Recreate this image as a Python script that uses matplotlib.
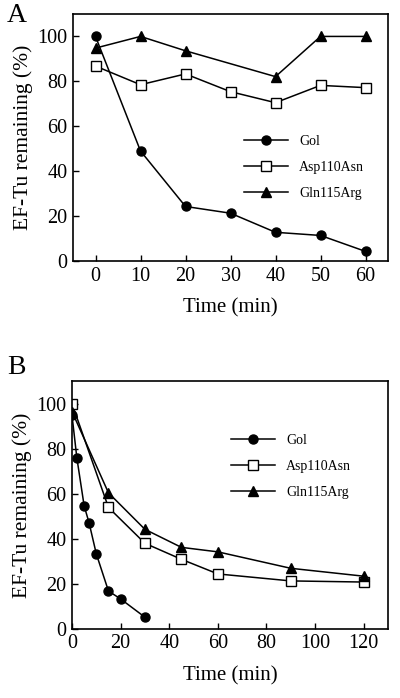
import matplotlib
matplotlib.use("Agg")
import matplotlib.pyplot as plt

plt.rcParams['font.family'] = ['Liberation Serif', 'DejaVu Serif']

# panel A data
t_a = [0, 10, 20, 30, 40, 50, 60]
gol_a = [100, 49, 24.3, 21.3, 12.8, 11.4, 4.3]
asp_a = [86.8, 78.5, 83.3, 75.4, 70.5, 78.2, 77.2]
t_gln_a = [0, 10, 20, 40, 50, 60]
gln_a = [94.8, 100, 93.6, 82.1, 100, 100]

# panel B data
t_gol_b = [0, 2, 5, 7, 10, 15, 20, 30]
gol_b = [94.8, 75.9, 54.6, 47.2, 33.3, 16.8, 13.3, 5.2]
t_b = [0, 15, 30, 45, 60, 90, 120]
asp_b = [100, 53.9, 38.0, 30.9, 24.4, 21.3, 20.8]
gln_b = [96.5, 60.4, 44.2, 36.2, 34.2, 26.9, 23.4]

fig = plt.figure(figsize=(4, 6.98), dpi=100)
axA = fig.add_axes([0.1825, 0.626, 0.7875, 0.354])
axB = fig.add_axes([0.18, 0.099, 0.79, 0.355])

mk = dict(color='black', lw=1.1, markersize=6.5)

axA.plot(t_a, gol_a, marker='o', label='Gol', **mk)
axA.plot(t_a, asp_a, marker='s', markerfacecolor='white', label='Asp110Asn', **mk)
axA.plot(t_gln_a, gln_a, marker='^', label='Gln115Arg', **mk)
axA.set_xlim(-5, 65)
axA.set_ylim(0, 110)
axA.set_xticks(t_a)

axB.plot(t_gol_b, gol_b, marker='o', label='Gol', **mk)
axB.plot(t_b, asp_b, marker='s', markerfacecolor='white', label='Asp110Asn', **mk)
axB.plot(t_b, gln_b, marker='^', label='Gln115Arg', **mk)
axB.set_xlim(0, 130)
axB.set_ylim(0, 110)
axB.set_xticks([0, 20, 40, 60, 80, 100, 120])

for ax, anchor in [(axA, (0.52, 0.54)), (axB, (0.48, 0.815))]:
    ax.set_yticks([0, 20, 40, 60, 80, 100])
    ax.tick_params(direction='in', length=4, width=1, labelsize=14.5, pad=4)
    for s in ax.spines.values():
        s.set_linewidth(1.2)
    ax.set_xlabel('Time (min)', fontsize=15, labelpad=9)
    ax.set_ylabel('EF-Tu remaining (%)', fontsize=15.5, labelpad=3)
    ax.legend(loc='upper left', bbox_to_anchor=anchor, frameon=False,
              fontsize=10, handlelength=3.2, labelspacing=0.95,
              borderpad=0, handletextpad=0.8)

fig.text(0.018, 0.978, 'A', fontsize=20, va='center', ha='left')
fig.text(0.018, 0.474, 'B', fontsize=20, va='center', ha='left')

fig.savefig('out.png', dpi=100)
